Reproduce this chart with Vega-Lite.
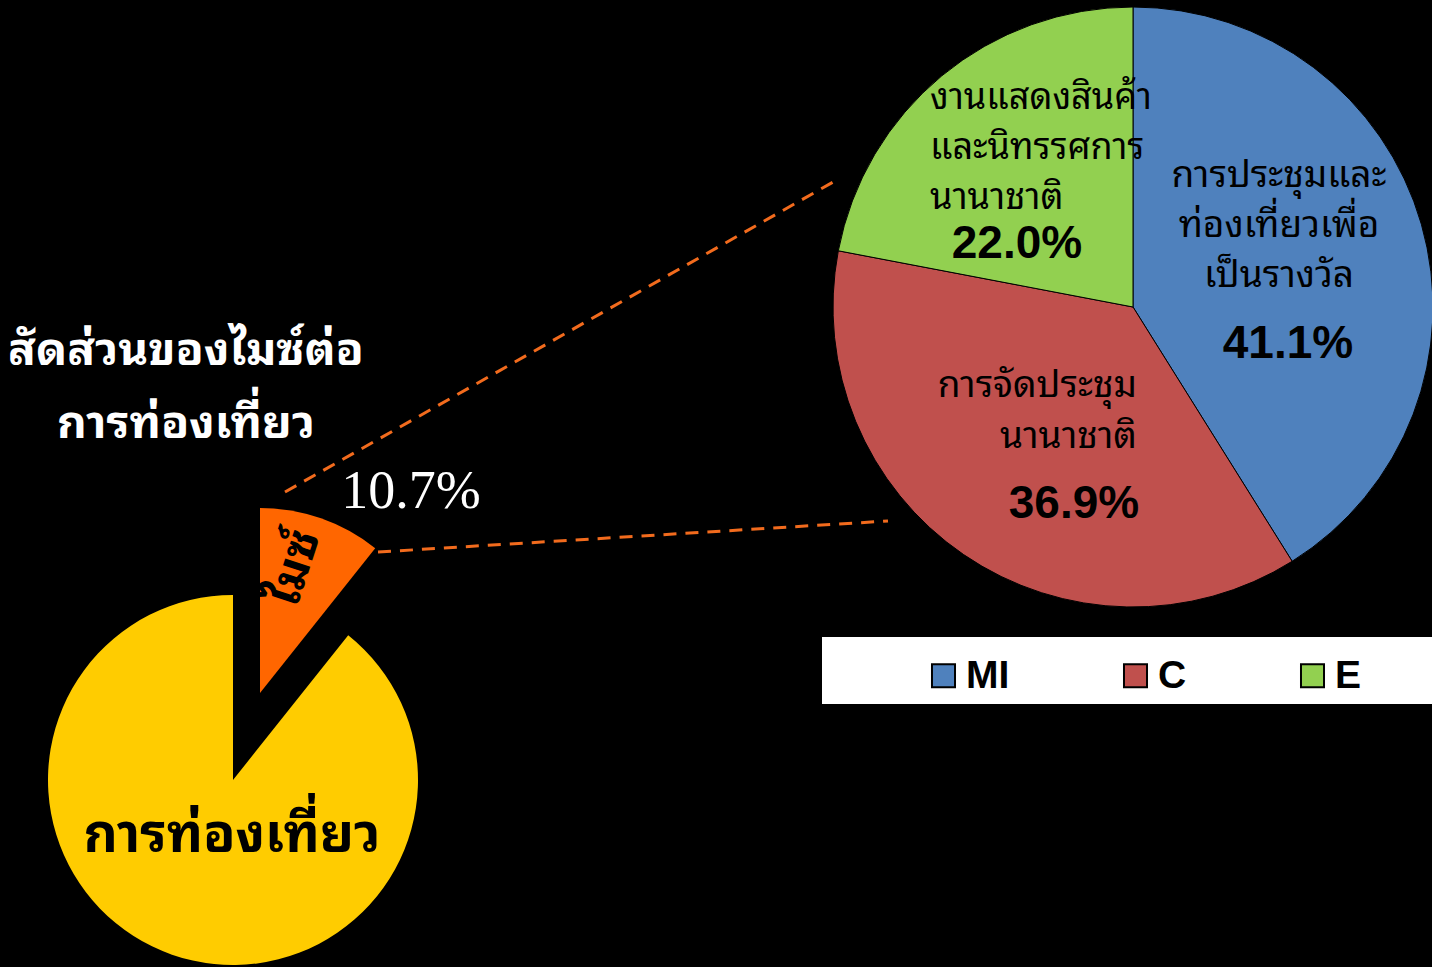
{
  "$schema": "https://vega.github.io/schema/vega-lite/v6.json",
  "width": 1432,
  "height": 967,
  "autosize": {"type": "none"},
  "padding": 0,
  "background": "#000000",
  "config": {"view": {"stroke": null}},
  "layer": [
    {
      "data": {"values": [{}]},
      "mark": {"type": "rect", "fill": "#FFFFFF"},
      "encoding": {
        "x": {"datum": 822, "type": "quantitative", "scale": {"domain": [0, 1432], "nice": false, "zero": false}, "axis": null},
        "x2": {"datum": 1432},
        "y": {"datum": 637, "type": "quantitative", "scale": {"domain": [0, 967], "nice": false, "zero": false, "reverse": true}, "axis": null},
        "y2": {"datum": 704}
      }
    },
    {
      "data": {"values": [{"cat": "MI", "value": 41.1, "ord": 1}, {"cat": "C", "value": 36.9, "ord": 2}, {"cat": "E", "value": 22.0, "ord": 3}]},
      "mark": {"type": "arc", "radius": 300, "stroke": "#000000", "strokeWidth": 1},
      "encoding": {
        "x": {"datum": 1133, "type": "quantitative", "scale": {"domain": [0, 1432], "nice": false, "zero": false}, "axis": null},
        "y": {"datum": 307, "type": "quantitative", "scale": {"domain": [0, 967], "nice": false, "zero": false, "reverse": true}, "axis": null},
        "theta": {"field": "value", "type": "quantitative", "stack": true},
        "order": {"field": "ord"},
        "color": {
          "field": "cat", "type": "nominal",
          "scale": {"domain": ["MI", "C", "E", "การท่องเที่ยว", "ไมซ์"], "range": ["#4F81BD", "#C0504D", "#92D050", "#FFCC00", "#FF6600"]},
          "legend": {
            "values": ["MI", "C", "E"], "title": null, "orient": "none", "direction": "horizontal",
            "legendX": 924, "legendY": 656, "padding": 0, "zindex": 5,
            "symbolType": "square", "symbolSize": 530, "symbolStrokeColor": "#000000", "symbolStrokeWidth": 2, "symbolOpacity": 1,
            "labelFont": "Liberation Sans", "labelFontWeight": "bold", "labelFontSize": 39, "labelColor": "#000000",
            "labelOffset": 3, "columnPadding": 106
          }
        }
      }
    },
    {
      "data": {"values": [{"cat": "ไมซ์", "value": 10.7, "ord": 1}, {"cat": "การท่องเที่ยว", "value": 89.3, "ord": 2}]},
      "mark": {"type": "arc", "radius": 185},
      "encoding": {
        "x": {"datum": 233, "type": "quantitative", "scale": {"domain": [0, 1432], "nice": false, "zero": false}, "axis": null},
        "y": {"datum": 780, "type": "quantitative", "scale": {"domain": [0, 967], "nice": false, "zero": false, "reverse": true}, "axis": null},
        "theta": {"field": "value", "type": "quantitative", "stack": true},
        "order": {"field": "ord"},
        "color": {"field": "cat", "type": "nominal"},
        "opacity": {"condition": {"test": "datum.cat == 'ไมซ์'", "value": 0}, "value": 1}
      }
    },
    {
      "data": {"values": [{"cat": "ไมซ์", "value": 10.7, "ord": 1}, {"cat": "การท่องเที่ยว", "value": 89.3, "ord": 2}]},
      "mark": {"type": "arc", "radius": 185},
      "encoding": {
        "x": {"datum": 260, "type": "quantitative", "scale": {"domain": [0, 1432], "nice": false, "zero": false}, "axis": null},
        "y": {"datum": 693, "type": "quantitative", "scale": {"domain": [0, 967], "nice": false, "zero": false, "reverse": true}, "axis": null},
        "theta": {"field": "value", "type": "quantitative", "stack": true},
        "order": {"field": "ord"},
        "color": {"field": "cat", "type": "nominal"},
        "opacity": {"condition": {"test": "datum.cat == 'ไมซ์'", "value": 1}, "value": 0}
      }
    },
    {
      "data": {"values": [{}]},
      "mark": {"type": "rule", "stroke": "#F26B1D", "strokeWidth": 3, "strokeDash": [13, 9]},
      "encoding": {
        "x": {"datum": 285, "type": "quantitative", "scale": {"domain": [0, 1432], "nice": false, "zero": false}, "axis": null},
        "x2": {"datum": 835},
        "y": {"datum": 492, "type": "quantitative", "scale": {"domain": [0, 967], "nice": false, "zero": false, "reverse": true}, "axis": null},
        "y2": {"datum": 181}
      }
    },
    {
      "data": {"values": [{}]},
      "mark": {"type": "rule", "stroke": "#F26B1D", "strokeWidth": 3, "strokeDash": [13, 9]},
      "encoding": {
        "x": {"datum": 378, "type": "quantitative", "scale": {"domain": [0, 1432], "nice": false, "zero": false}, "axis": null},
        "x2": {"datum": 888},
        "y": {"datum": 552, "type": "quantitative", "scale": {"domain": [0, 967], "nice": false, "zero": false, "reverse": true}, "axis": null},
        "y2": {"datum": 521}
      }
    },
    {
      "data": {"values": [{"label": "สัดส่วนของไมซ์ต่อ\nการท่องเที่ยว"}]},
      "mark": {"type": "text", "font": "Noto Sans Thai Looped, Loma, Garuda, Tlwg Typo, Norasi, Noto Serif Thai, Noto Sans Thai, sans-serif", "fontSize": 46, "fontWeight": "bold", "fill": "#FFFFFF", "align": "center", "baseline": "alphabetic", "lineBreak": "\n", "lineHeight": 73},
      "encoding": {
        "x": {"datum": 186, "type": "quantitative", "scale": {"domain": [0, 1432], "nice": false, "zero": false}, "axis": null},
        "y": {"datum": 365, "type": "quantitative", "scale": {"domain": [0, 967], "nice": false, "zero": false, "reverse": true}, "axis": null},
        "text": {"field": "label"}
      }
    },
    {
      "data": {"values": [{"label": "10.7%"}]},
      "mark": {"type": "text", "font": "Liberation Serif", "fontSize": 54, "fill": "#FFFFFF", "align": "center", "baseline": "alphabetic"},
      "encoding": {
        "x": {"datum": 411, "type": "quantitative", "scale": {"domain": [0, 1432], "nice": false, "zero": false}, "axis": null},
        "y": {"datum": 508, "type": "quantitative", "scale": {"domain": [0, 967], "nice": false, "zero": false, "reverse": true}, "axis": null},
        "text": {"field": "label"}
      }
    },
    {
      "data": {"values": [{"label": "ไมซ์"}]},
      "mark": {"type": "text", "font": "Noto Sans Thai Looped, Loma, Garuda, Tlwg Typo, Norasi, Noto Serif Thai, Noto Sans Thai, sans-serif", "fontSize": 47, "fontWeight": "bold", "fill": "#000000", "align": "center", "baseline": "middle", "angle": -72},
      "encoding": {
        "x": {"datum": 295, "type": "quantitative", "scale": {"domain": [0, 1432], "nice": false, "zero": false}, "axis": null},
        "y": {"datum": 568, "type": "quantitative", "scale": {"domain": [0, 967], "nice": false, "zero": false, "reverse": true}, "axis": null},
        "text": {"field": "label"}
      }
    },
    {
      "data": {"values": [{"label": "การท่องเที่ยว"}]},
      "mark": {"type": "text", "font": "Noto Sans Thai Looped, Loma, Garuda, Tlwg Typo, Norasi, Noto Serif Thai, Noto Sans Thai, sans-serif", "fontSize": 53, "fontWeight": "bold", "fill": "#000000", "align": "center", "baseline": "alphabetic"},
      "encoding": {
        "x": {"datum": 232, "type": "quantitative", "scale": {"domain": [0, 1432], "nice": false, "zero": false}, "axis": null},
        "y": {"datum": 852, "type": "quantitative", "scale": {"domain": [0, 967], "nice": false, "zero": false, "reverse": true}, "axis": null},
        "text": {"field": "label"}
      }
    },
    {
      "data": {"values": [{"label": "การประชุมและ\nท่องเที่ยวเพื่อ\nเป็นรางวัล"}]},
      "mark": {"type": "text", "font": "Noto Sans Thai Looped, Loma, Garuda, Tlwg Typo, Norasi, Noto Serif Thai, Noto Sans Thai, sans-serif", "fontSize": 37, "fill": "#000000", "align": "center", "baseline": "alphabetic", "lineBreak": "\n", "lineHeight": 50},
      "encoding": {
        "x": {"datum": 1279, "type": "quantitative", "scale": {"domain": [0, 1432], "nice": false, "zero": false}, "axis": null},
        "y": {"datum": 187, "type": "quantitative", "scale": {"domain": [0, 967], "nice": false, "zero": false, "reverse": true}, "axis": null},
        "text": {"field": "label"}
      }
    },
    {
      "data": {"values": [{"label": "การจัดประชุม\nนานาชาติ"}]},
      "mark": {"type": "text", "font": "Noto Sans Thai Looped, Loma, Garuda, Tlwg Typo, Norasi, Noto Serif Thai, Noto Sans Thai, sans-serif", "fontSize": 37, "fill": "#000000", "align": "right", "baseline": "alphabetic", "lineBreak": "\n", "lineHeight": 51},
      "encoding": {
        "x": {"datum": 1137, "type": "quantitative", "scale": {"domain": [0, 1432], "nice": false, "zero": false}, "axis": null},
        "y": {"datum": 397, "type": "quantitative", "scale": {"domain": [0, 967], "nice": false, "zero": false, "reverse": true}, "axis": null},
        "text": {"field": "label"}
      }
    },
    {
      "data": {"values": [{"label": "งานแสดงสินค้า\nและนิทรรศการ\nนานาชาติ"}]},
      "mark": {"type": "text", "font": "Noto Sans Thai Looped, Loma, Garuda, Tlwg Typo, Norasi, Noto Serif Thai, Noto Sans Thai, sans-serif", "fontSize": 36, "fill": "#000000", "align": "left", "baseline": "alphabetic", "lineBreak": "\n", "lineHeight": 50},
      "encoding": {
        "x": {"datum": 930, "type": "quantitative", "scale": {"domain": [0, 1432], "nice": false, "zero": false}, "axis": null},
        "y": {"datum": 109, "type": "quantitative", "scale": {"domain": [0, 967], "nice": false, "zero": false, "reverse": true}, "axis": null},
        "text": {"field": "label"}
      }
    },
    {
      "data": {"values": [{"label": "41.1%"}]},
      "mark": {"type": "text", "font": "Liberation Sans", "fontSize": 46, "fontWeight": "bold", "fill": "#000000", "align": "center", "baseline": "alphabetic"},
      "encoding": {
        "x": {"datum": 1288, "type": "quantitative", "scale": {"domain": [0, 1432], "nice": false, "zero": false}, "axis": null},
        "y": {"datum": 358, "type": "quantitative", "scale": {"domain": [0, 967], "nice": false, "zero": false, "reverse": true}, "axis": null},
        "text": {"field": "label"}
      }
    },
    {
      "data": {"values": [{"label": "36.9%"}]},
      "mark": {"type": "text", "font": "Liberation Sans", "fontSize": 46, "fontWeight": "bold", "fill": "#000000", "align": "center", "baseline": "alphabetic"},
      "encoding": {
        "x": {"datum": 1074, "type": "quantitative", "scale": {"domain": [0, 1432], "nice": false, "zero": false}, "axis": null},
        "y": {"datum": 518, "type": "quantitative", "scale": {"domain": [0, 967], "nice": false, "zero": false, "reverse": true}, "axis": null},
        "text": {"field": "label"}
      }
    },
    {
      "data": {"values": [{"label": "22.0%"}]},
      "mark": {"type": "text", "font": "Liberation Sans", "fontSize": 46, "fontWeight": "bold", "fill": "#000000", "align": "center", "baseline": "alphabetic"},
      "encoding": {
        "x": {"datum": 1017, "type": "quantitative", "scale": {"domain": [0, 1432], "nice": false, "zero": false}, "axis": null},
        "y": {"datum": 258, "type": "quantitative", "scale": {"domain": [0, 967], "nice": false, "zero": false, "reverse": true}, "axis": null},
        "text": {"field": "label"}
      }
    }
  ]
}
